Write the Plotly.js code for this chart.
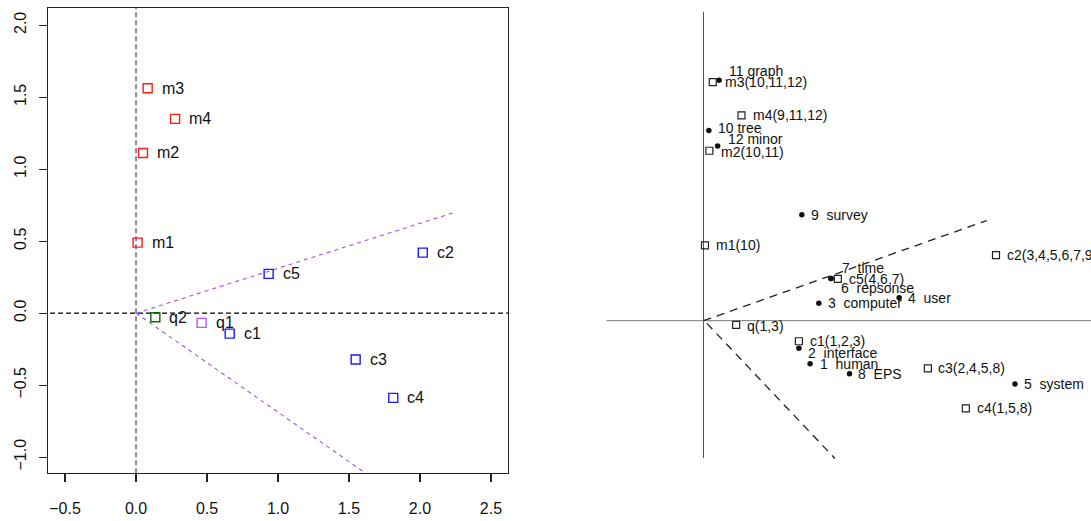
<!DOCTYPE html>
<html>
<head>
<meta charset="utf-8">
<script src="https://cdn.plot.ly/plotly-3.0.1.min.js"></script>
<style>html,body{margin:0;padding:0;background:#fff;}#chart{width:1091px;height:521px;}</style>
</head>
<body>
<div id="chart"></div>
<script>
// ---------- Left panel data ----------
const leftMLabels = ["m1", "m2", "m3", "m4"];
const leftMX = [0.011, 0.049, 0.082, 0.275];
const leftMY = [0.49, 1.113, 1.5625, 1.35];

const leftCLabels = ["c1", "c2", "c3", "c4", "c5"];
const leftCX = [0.66, 2.02, 1.547, 1.812, 0.934];
const leftCY = [-0.142, 0.421, -0.322, -0.588, 0.273];

const leftQ1Label = ["q1"];
const leftQ1X = [0.462];
const leftQ1Y = [-0.067];

const leftQ2Label = ["q2"];
const leftQ2X = [0.136];
const leftQ2Y = [-0.028];

const coneUpperX = [0, 2.246];
const coneUpperY = [0, 0.701];
const coneLowerX = [0, 1.613];
const coneLowerY = [0, -1.109];

const leftXTicks = [-0.5, 0.0, 0.5, 1.0, 1.5, 2.0, 2.5];
const leftXTickText = ["\u22120.5", "0.0", "0.5", "1.0", "1.5", "2.0", "2.5"];
const leftYTicks = [-1.0, -0.5, 0.0, 0.5, 1.0, 1.5, 2.0];
const leftYTickText = ["\u22121.0", "\u22120.5", "0.0", "0.5", "1.0", "1.5", "2.0"];

// ---------- Right panel data ----------
const termLabels = ["1\u00a0 human", "2\u00a0 interface", "3\u00a0 computer", "4\u00a0 user", "5\u00a0 system",
  "6\u00a0 repsonse", "7\u00a0 time", "8\u00a0 EPS", "9\u00a0 survey", "10 tree", "11 graph", "12 minor"];
const termX = [0.219, 0.196, 0.237, 0.402, 0.640, 0.262, 0.262, 0.300, 0.202, 0.011, 0.032, 0.029];
const termY = [-0.111, -0.071, 0.045, 0.059, -0.163, 0.109, 0.109, -0.137, 0.273, 0.490, 0.620, 0.450];

const docLabels = ["c1(1,2,3)", "c2(3,4,5,6,7,9)", "c3(2,4,5,8)", "c4(1,5,8)", "c5(4,6,7)",
  "m1(10)", "m2(10,11)", "m3(10,11,12)", "m4(9,11,12)", "q(1,3)"];
const docX = [0.196, 0.601, 0.461, 0.539, 0.276, 0.003, 0.012, 0.019, 0.078, 0.067];
const docY = [-0.053, 0.169, -0.123, -0.226, 0.108, 0.194, 0.438, 0.615, 0.529, -0.011];

const rightUpperX = [0, 0.582];
const rightUpperY = [0, 0.258];
const rightLowerX = [0.007, 0.270];
const rightLowerY = [-0.007, -0.355];
const rightVAxisX = [0, 0];
const rightVAxisY = [0.796, -0.354];
const rightHAxisX = [-0.199, 0.80];
const rightHAxisY = [0, 0];

// ---------- Style (label offsets in px) ----------
const termShiftX = [8.2, 7.2, 7.2, 6.5, 7.2, 7.5, 8.5, 6.5, 7.5, 7.5, 7.5, 8.5];
const termShiftY = [0, -5, 0, 0, 0, -9.4, 10, 0, 0, 3, 9, 7];
const docShiftX = [9.2, 8.5, 8.5, 8.8, 9.2, 8.8, 9.5, 10.1, 9.5, 9.2];
const docShiftY = [0, 0, 0, 0, 0, 0, -1, 0, 0, -1];

const W = 1091, H = 521;
const leftFont = {family: "Liberation Sans, Arial, sans-serif", size: 16, color: "#111"};
const rightFont = {family: "Liberation Sans, Arial, sans-serif", size: 14, color: "#111"};

function sq(x, y, color) {
  return {type: "scatter", mode: "markers", x: x, y: y, xaxis: "x", yaxis: "y",
    marker: {symbol: "square-open", size: 9, color: color, line: {width: 1.4, color: color}},
    hoverinfo: "skip", cliponaxis: false};
}
function line(x, y, color, dash, width, xa, ya) {
  return {type: "scatter", mode: "lines", x: x, y: y, xaxis: xa, yaxis: ya,
    line: {color: color, dash: dash, width: width}, hoverinfo: "skip"};
}

const traces = [
  line([0, 0], [-2, 3], "#555", "5px,3px", 1.3, "x", "y"),
  line([-1, 3], [0, 0], "#000", "5px,3px", 1.2, "x", "y"),
  line(coneUpperX, coneUpperY, "#A64DF5", "4px,4px", 1.1, "x", "y"),
  line(coneLowerX, coneLowerY, "#A64DF5", "4px,4px", 1.1, "x", "y"),
  sq(leftMX, leftMY, "#FF1A1A"),
  sq(leftCX, leftCY, "#1A1AFF"),
  sq(leftQ1X, leftQ1Y, "#B25AF5"),
  sq(leftQ2X, leftQ2Y, "#0B6B0B"),
  // right panel
  line(rightVAxisX, rightVAxisY, "#555", "solid", 1, "x2", "y2"),
  line(rightHAxisX, rightHAxisY, "#777", "solid", 1, "x2", "y2"),
  line(rightUpperX, rightUpperY, "#222", "8px,6px", 1.3, "x2", "y2"),
  line(rightLowerX, rightLowerY, "#222", "8px,6px", 1.3, "x2", "y2"),
  {type: "scatter", mode: "markers", x: termX, y: termY, xaxis: "x2", yaxis: "y2",
    marker: {symbol: "circle", size: 5.5, color: "#111"}, hoverinfo: "skip", cliponaxis: false},
  {type: "scatter", mode: "markers", x: docX, y: docY, xaxis: "x2", yaxis: "y2",
    marker: {symbol: "square-open", size: 7, color: "#222", line: {width: 1.2, color: "#222"}},
    hoverinfo: "skip", cliponaxis: false}
];

const annotations = [];
function addLeft(labels, xs, ys) {
  labels.forEach((t, i) => annotations.push({x: xs[i], y: ys[i], xref: "x", yref: "y", text: t,
    showarrow: false, xanchor: "left", yanchor: "middle", xshift: 12, font: leftFont}));
}
addLeft(leftMLabels, leftMX, leftMY);
addLeft(leftCLabels, leftCX, leftCY);
addLeft(leftQ1Label, leftQ1X, leftQ1Y);
addLeft(leftQ2Label, leftQ2X, leftQ2Y);
termLabels.forEach((t, i) => annotations.push({x: termX[i], y: termY[i], xref: "x2", yref: "y2", text: t,
  showarrow: false, xanchor: "left", yanchor: "middle", xshift: termShiftX[i], yshift: termShiftY[i], font: rightFont}));
docLabels.forEach((t, i) => annotations.push({x: docX[i], y: docY[i], xref: "x2", yref: "y2", text: t,
  showarrow: false, xanchor: "left", yanchor: "middle", xshift: docShiftX[i], yshift: docShiftY[i], font: rightFont}));

const layout = {
  width: W, height: H,
  margin: {l: 0, r: 0, t: 0, b: 0},
  paper_bgcolor: "#fff", plot_bgcolor: "rgba(0,0,0,0)",
  showlegend: false,
  xaxis: {domain: [48 / W, 508 / W], range: [-0.62, 2.62], anchor: "y",
    tickvals: leftXTicks, ticktext: leftXTickText, ticks: "outside", ticklen: 8, tickwidth: 1.2, tickcolor: "#222",
    showline: true, linecolor: "#222", linewidth: 1.3, mirror: true, showgrid: false, zeroline: false,
    tickfont: leftFont, ticklabelstandoff: 12},
  yaxis: {domain: [(H - 473) / H, (H - 8) / H], range: [-1.11, 2.12], anchor: "x",
    tickvals: leftYTicks, ticktext: leftYTickText, ticks: "outside", ticklen: 8, tickwidth: 1.2, tickcolor: "#222",
    showline: true, linecolor: "#222", linewidth: 1.3, mirror: true, showgrid: false, zeroline: false,
    tickangle: -90, tickfont: leftFont, ticklabelstandoff: 6},
  xaxis2: {domain: [600 / W, 1], range: [-0.2127, 0.7962], anchor: "y2", visible: false},
  yaxis2: {domain: [0, 1], range: [-0.5162, 0.8265], anchor: "x2", visible: false},
  annotations: annotations
};

Plotly.newPlot("chart", traces, layout, {staticPlot: true, displayModeBar: false});
</script>
</body>
</html>
